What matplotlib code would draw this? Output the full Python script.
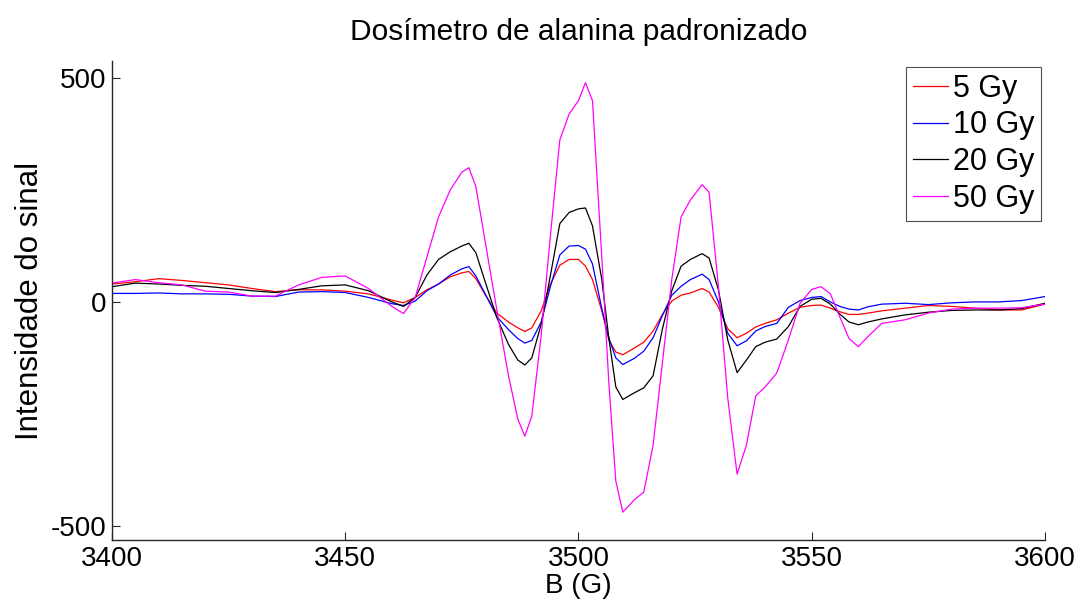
import numpy as np
import matplotlib
matplotlib.use("Agg")
import matplotlib.pyplot as plt

plt.rcParams['font.family'] = ['Liberation Sans', 'DejaVu Sans']
plt.rcParams['axes.unicode_minus'] = False

# campo magnetico (G)
campo = [3400, 3405, 3410, 3415, 3420, 3425, 3430, 3435, 3440, 3445, 3450, 3455,
         3460, 3462.5, 3465, 3467.5, 3470, 3472.5, 3475, 3476.5, 3478, 3480,
         3482.5, 3485, 3487, 3488.5, 3490, 3492, 3494, 3496, 3498, 3500, 3501.5,
         3503, 3505, 3506.5, 3508, 3509.5, 3512, 3514, 3516, 3518, 3520, 3522,
         3524, 3526.5, 3528, 3530, 3532, 3534, 3536, 3538, 3540, 3542.5, 3545,
         3547.5, 3550, 3552, 3554, 3556, 3558, 3560, 3562, 3565, 3570, 3575,
         3580, 3585, 3590, 3595, 3600]

sinal_5gy = [40, 45, 52, 48, 43, 38, 30, 23, 27, 27, 24, 18,
             4, -2, 10, 27, 40, 56, 65, 68, 52, 16,
             -25, -45, -58, -66, -58, -20, 40, 82, 95, 95, 80,
             50, -20, -85, -112, -118, -103, -90, -65, -28, 2, 15,
             20, 30, 22, -12, -60, -80, -70, -56, -48, -40, -25,
             -12, -8, -7, -14, -22, -28, -28, -25, -20, -14, -8,
             -10, -14, -18, -18, -5]

sinal_10gy = [19, 19, 20, 18, 18, 17, 13, 12, 22, 23, 21, 10,
              -4, -8, 2, 25, 40, 60, 74, 79, 58, 18,
              -33, -62, -82, -92, -86, -45, 35, 105, 125, 126, 118,
              85, -15, -80, -125, -140, -126, -110, -80, -30, 15, 35,
              50, 62, 50, 0, -70, -98, -87, -65, -55, -48, -12,
              3, 10, 12, 0, -10, -16, -18, -11, -5, -3, -6,
              -2, 0, 0, 3, 12]

sinal_20gy = [34, 42, 40, 37, 35, 30, 25, 21, 28, 36, 38, 25,
              0, -10, 10, 60, 95, 112, 125, 131, 110, 45,
              -35, -95, -130, -141, -125, -50, 60, 175, 200, 208, 210,
              170, 50, -80, -190, -218, -203, -192, -165, -60, 25, 80,
              95, 108, 98, 27, -85, -158, -130, -100, -90, -83, -55,
              -10, 6, 8, -5, -27, -45, -51, -45, -38, -29, -23,
              -19, -18, -18, -15, -3]

sinal_50gy = [42, 50, 43, 38, 24, 22, 13, 13, 38, 55, 58, 30,
              -10, -26, 10, 100, 190, 250, 290, 300, 258, 135,
              -18, -165, -262, -300, -255, -75, 150, 362, 420, 450, 490,
              450, 100, -180, -400, -470, -442, -425, -320, -135, 50, 190,
              228, 262, 245, 34, -215, -385, -320, -210, -190, -159, -85,
              -3, 28, 34, 18, -33, -82, -100, -78, -48, -40, -25,
              -16, -14, -14, -13, -5]

fig = plt.figure(figsize=(10.84, 6.06), dpi=100)
ax = fig.add_axes([0.1033, 0.109, 0.8607, 0.790])

ax.plot(campo, sinal_5gy, color='#ff0000', lw=0.9, label='5 Gy')
ax.plot(campo, sinal_10gy, color='#0000ff', lw=0.9, label='10 Gy')
ax.plot(campo, sinal_20gy, color='#000000', lw=0.9, label='20 Gy')
ax.plot(campo, sinal_50gy, color='#ff00ff', lw=0.9, label='50 Gy')

ax.set_xlim(3400, 3600)
ax.set_ylim(-532, 538)
ax.set_xticks([3400, 3450, 3500, 3550, 3600])
ax.set_yticks([-500, 0, 500])

ax.spines['top'].set_visible(False)
ax.spines['right'].set_visible(False)
for s in ['left', 'bottom']:
    ax.spines[s].set_color('#262626')
    ax.spines[s].set_linewidth(1.0)
ax.tick_params(direction='in', length=6, width=0.8, color='#262626',
               labelsize=20, pad=4)

ax.set_title('Dosímetro de alanina padronizado', fontsize=21.5, pad=15)
ax.set_xlabel('B (G)', fontsize=20, labelpad=1)
ax.set_ylabel('Intensidade do sinal', fontsize=22.5, labelpad=4)

leg = ax.legend(loc='upper right', fontsize=22, frameon=True, fancybox=False,
                handlelength=1.15, handletextpad=0.15, borderpad=0.22,
                labelspacing=0.22, borderaxespad=0,
                bbox_to_anchor=(1041 / 1084, 1 - 67 / 606),
                bbox_transform=fig.transFigure)
leg.get_frame().set_edgecolor('#262626')
leg.get_frame().set_linewidth(0.8)

fig.savefig('out.png', dpi=100)
